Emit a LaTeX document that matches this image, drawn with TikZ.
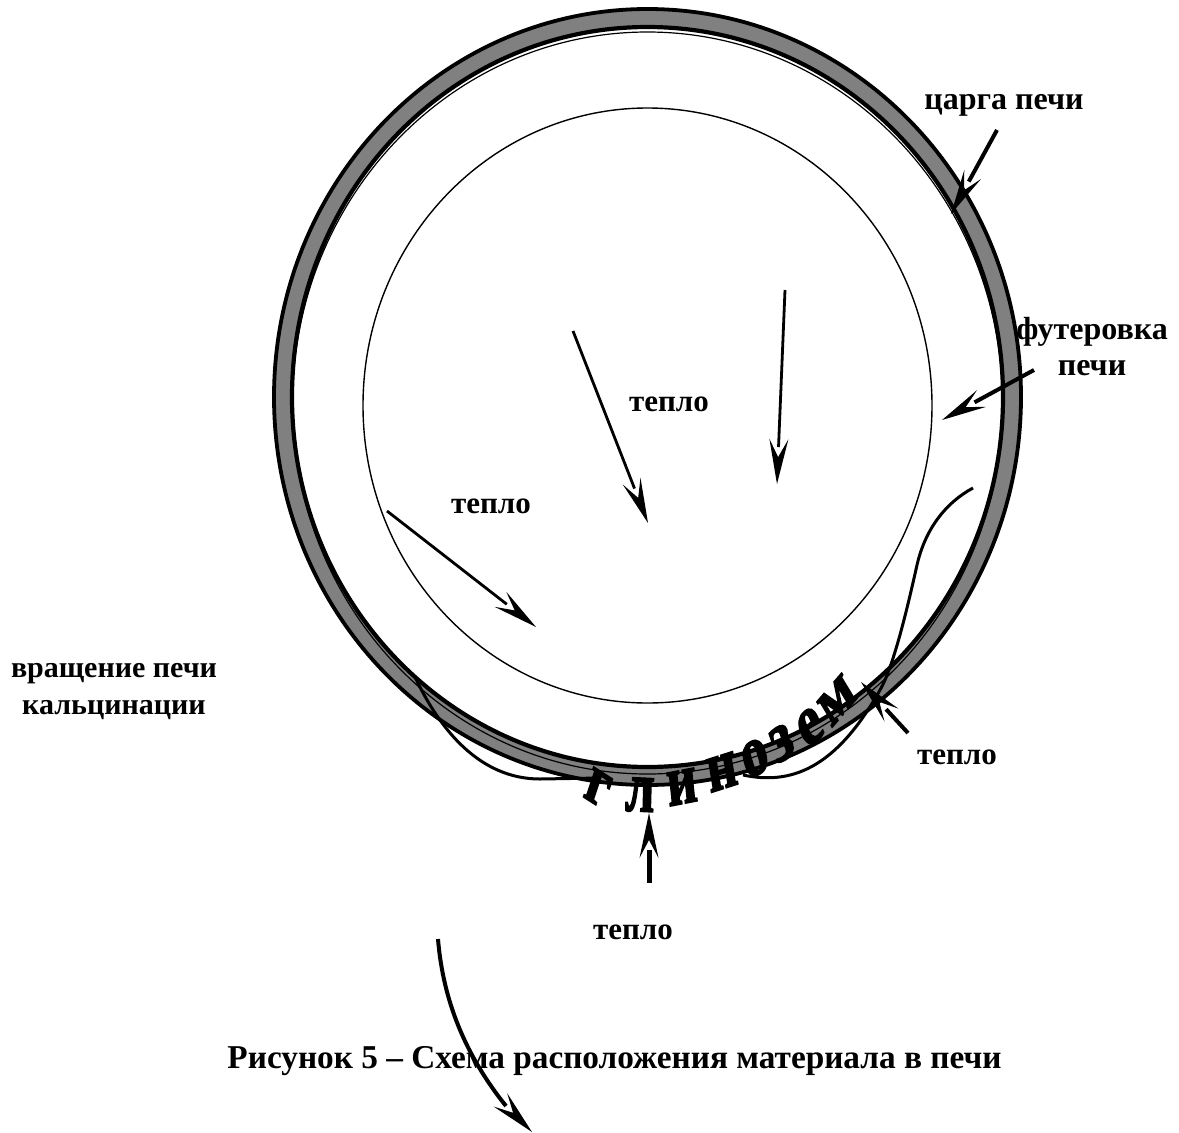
\documentclass[tikz,border=0pt]{standalone}
\usepackage{fontspec}
\setmainfont{Liberation Serif}
\newfontfamily\arcfont[FakeBold=2.5]{Liberation Serif Bold}
\usetikzlibrary{calc}
\definecolor{ringgray}{RGB}{128,128,128}
\newcommand{\headonly}[2]{% #1 = axis coordinate behind the tip, #2 = tip
  \fill ($(#2)!45pt!(#1)!9.5pt!90:(#1)$) -- (#2) -- ($(#2)!45pt!(#1)!9.5pt!-90:(#1)$) -- ($(#2)!27pt!(#1)$) -- cycle;}
\newcommand{\headarrow}[3]{% #1 = line width, #2 = start, #3 = tip
  \draw[line width=#1] (#2) -- ($(#3)!37pt!(#2)$);
  \headonly{#2}{#3}}
\tikzset{
  x=1pt,y=-1pt,
  lbl/.style={font=\fontsize{31}{36}\selectfont\bfseries,align=center,inner sep=0pt},
  lblwide/.style={font=\fontsize{32}{36}\selectfont\bfseries,align=center,inner sep=0pt},
  lblside/.style={font=\fontsize{30}{37}\selectfont\bfseries,align=center,inner sep=0pt},
  arc letter/.style={font=\fontsize{40}{40}\arcfont,inner sep=0pt,transform shape,xscale=1.3,yscale=1.8},
  material/.style={line width=3pt},
}
\begin{document}
\begin{tikzpicture}[line cap=butt]
\useasboundingbox (0,0) rectangle (1179,1133);
% ring
\path[fill=ringgray,even odd rule] (647.5,397) ellipse [x radius=373.5,y radius=388] (647.5,397) ellipse [x radius=355.5,y radius=370];
\draw[line width=3.8pt] (647.5,397) ellipse [x radius=373.5,y radius=388];
\draw[line width=4.2pt] (647.5,397) ellipse [x radius=355.5,y radius=370];
\draw[line width=1.2pt] (647.5,403) ellipse [x radius=355,y radius=371];
% inner circle
\draw[line width=1.4pt] (647.5,405.5) ellipse [x radius=284.5,y radius=297.5];
% material
\coordinate (mA) at (415,677);
\coordinate (mB) at (600,778);
\coordinate (mC) at (743,775);
\coordinate (mD) at (973,488);
\draw[material] (mA) .. controls (440,730) and (480,779) .. (540,779) -- (mB);
\draw[material] (mC) .. controls (790,785) and (835,770) .. (880,690) .. controls (893,668) and (907,610) .. (917,565) .. controls (925,530) and (945,503) .. (mD);
% arrows
\coordinate (a1s) at (573,331); \coordinate (a1e) at (648,523);
\coordinate (a2s) at (785,290); \coordinate (a2e) at (777,484);
\coordinate (a3s) at (387,511); \coordinate (a3e) at (536,627);
\coordinate (a4s) at (997,130); \coordinate (a4e) at (951,214);
\coordinate (a5s) at (1034,370); \coordinate (a5e) at (942,420);
\coordinate (a6s) at (649,883); \coordinate (a6e) at (649,813);
\coordinate (a7s) at (908,733); \coordinate (a7e) at (861,682);
\coordinate (a8s) at (438,939); \coordinate (a8m) at (506,1106);
\coordinate (a8b) at (501.5,1101); \coordinate (a8e) at (532,1132);
\headarrow{2.8pt}{a1s}{a1e}
\headarrow{2.8pt}{a2s}{a2e}
\headarrow{2.8pt}{a3s}{a3e}
\headarrow{4pt}{a4s}{a4e}
\headarrow{4pt}{a5s}{a5e}
\headarrow{5pt}{a6s}{a6e}
\headarrow{4pt}{a7s}{a7e}
\draw[line width=4pt] (a8s) .. controls (443,1000) and (465,1055) .. (a8m);
\headonly{a8b}{a8e}
% labels
\node[lblwide] (l1) at (1004,105) {царга печи};
\node[lblwide] (l2) at (1092,347) {футеровка\\печи};
\node[lbl] (l3) at (669,404) {тепло};
\node[lbl] (l4) at (491,506) {тепло};
\node[lblside] (l5) at (114,692) {вращение печи\\кальцинации};
\node[lbl] (l6) at (957,757) {тепло};
\node[lbl] (l7) at (633,932) {тепло};
\node[font=\fontsize{33.3}{36}\selectfont\bfseries,inner sep=0pt] (l8) at (614.5,1061) {Рисунок 5 – Схема расположения материала в печи};
% curved word
\foreach \ch/\px/\py/\rt/\nm in {г/598/788/-25/g1,л/640/795/-2/g2,и/682/787/8/g3,н/722/772/13/g4,о/755/758/22/g5,з/782/743/26/g6,е/810/727/32/g7,м/837/700/40/g8}{
  \node[arc letter,rotate=\rt] (\nm) at (\px,\py) {\ch};
}
\end{tikzpicture}
\end{document}
